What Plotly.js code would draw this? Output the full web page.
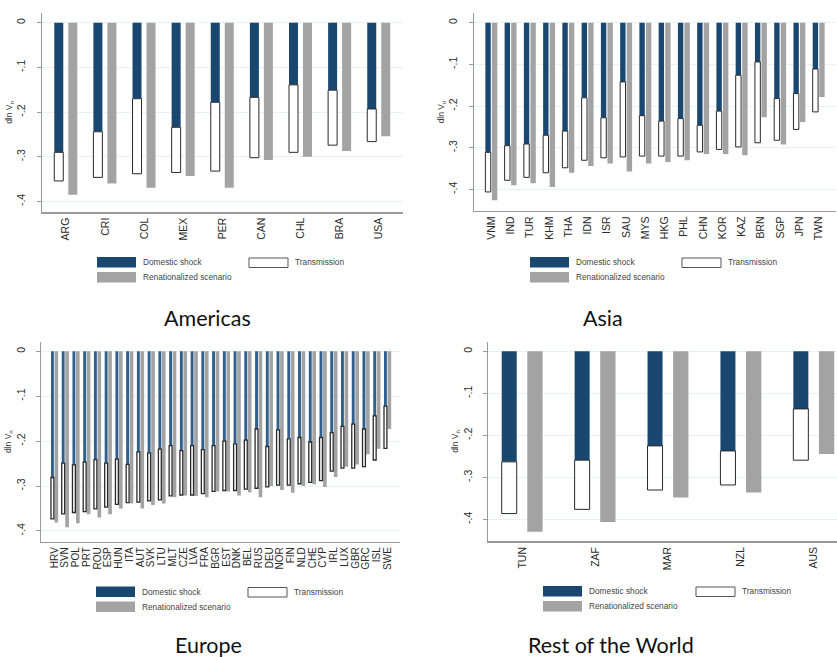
<!DOCTYPE html>
<html>
<head>
<meta charset="utf-8">
<script src="https://cdn.plot.ly/plotly-3.0.1.min.js"></script>
<style>
  html, body { margin: 0; padding: 0; background: #fff; }
  #chart { width: 837px; height: 657px; }
</style>
</head>
<body>
<div id="chart"></div>
<script>
// ---- Americas ----
const amCats     = ['ARG','CRI','COL','MEX','PER','CAN','CHL','BRA','USA'];
const amDomestic = [-0.290,-0.244,-0.170,-0.234,-0.178,-0.167,-0.139,-0.151,-0.193];
const amTotal    = [-0.354,-0.346,-0.338,-0.335,-0.332,-0.302,-0.290,-0.274,-0.266];
const amRenat    = [-0.385,-0.360,-0.369,-0.343,-0.369,-0.307,-0.300,-0.287,-0.254];

// ---- Asia ----
const asCats     = ['VNM','IND','TUR','KHM','THA','IDN','ISR','SAU','MYS','HKG','PHL','CHN','KOR','KAZ','BRN','SGP','JPN','TWN'];
const asDomestic = [-0.311,-0.295,-0.291,-0.270,-0.260,-0.180,-0.228,-0.142,-0.223,-0.236,-0.230,-0.246,-0.212,-0.126,-0.094,-0.182,-0.170,-0.111];
const asTotal    = [-0.406,-0.378,-0.371,-0.360,-0.348,-0.330,-0.324,-0.322,-0.320,-0.320,-0.320,-0.310,-0.304,-0.298,-0.288,-0.282,-0.256,-0.214];
const asRenat    = [-0.426,-0.390,-0.385,-0.394,-0.360,-0.344,-0.338,-0.357,-0.338,-0.334,-0.330,-0.315,-0.315,-0.318,-0.227,-0.292,-0.238,-0.178];

// ---- Europe ----
const euCats     = ['HRV','SVN','POL','PRT','ROU','ESP','HUN','ITA','AUT','SVK','LTU','MLT','CZE','LVA','FRA','BGR',
                    'EST','DNK','BEL','RUS','DEU','NOR','FIN','NLD','CHE','CYP','IRL','LUX','GBR','GRC','ISL','SWE'];
const euDomestic = [-0.281,-0.249,-0.253,-0.247,-0.241,-0.249,-0.240,-0.252,-0.224,-0.226,-0.218,-0.210,-0.221,-0.210,-0.219,-0.210,
                    -0.200,-0.206,-0.198,-0.173,-0.212,-0.175,-0.195,-0.192,-0.202,-0.192,-0.181,-0.167,-0.162,-0.173,-0.144,-0.122];
const euTotal    = [-0.373,-0.362,-0.359,-0.357,-0.351,-0.347,-0.341,-0.337,-0.336,-0.333,-0.331,-0.322,-0.320,-0.320,-0.317,-0.312,
                    -0.310,-0.310,-0.307,-0.305,-0.302,-0.298,-0.298,-0.295,-0.292,-0.288,-0.267,-0.260,-0.260,-0.257,-0.242,-0.216];
const euRenat    = [-0.381,-0.392,-0.383,-0.363,-0.370,-0.363,-0.350,-0.339,-0.350,-0.342,-0.339,-0.325,-0.321,-0.322,-0.325,-0.312,
                    -0.312,-0.321,-0.314,-0.325,-0.300,-0.309,-0.315,-0.300,-0.296,-0.302,-0.280,-0.257,-0.252,-0.229,-0.217,-0.173];

// ---- Rest of the World ----
const rwCats     = ['TUN','ZAF','MAR','NZL','AUS'];
const rwDomestic = [-0.263,-0.259,-0.225,-0.237,-0.137];
const rwTotal    = [-0.386,-0.376,-0.330,-0.318,-0.259];
const rwRenat    = [-0.429,-0.406,-0.348,-0.336,-0.244];

const yTickVals  = [0, -0.1, -0.2, -0.3, -0.4];
const yTickText  = ['0', '-.1', '-.2', '-.3', '-.4'];

const legendNames = ['Domestic shock', 'Transmission', 'Renationalized scenario'];
const panelTitles = ['Americas', 'Asia', 'Europe', 'Rest of the World'];

// colours
const NAVY = '#1a476f';
const GREY = '#a3a3a3';
const OUTLINE = '#2a2a2a';

const W = 837, H = 657;
const px = x => x / W;
const py = y => 1 - y / H;

// panel geometry (pixel boxes of the plot areas, axis ranges, bar placement)
const panels = [
  { cats: amCats, dom: amDomestic, tot: amTotal, ren: amRenat, ax: '',
    box: [42, 403, 13, 212], xr: [-0.614, 8.614], yr: [-0.4235, 0.0217],
    bOff: -0.30, bW: 0.23, gOff: 0.058, gW: 0.23, navy: NAVY, xfs: 10.5, tLine: 1,
    legend: [97, 249, 257], title: [207, 318] },
  { cats: asCats, dom: asDomestic, tot: asTotal, ren: asRenat, ax: '2',
    box: [474, 836, 13.3, 210.7], xr: [-0.9, 17.9], yr: [-0.451, 0.0226],
    bOff: -0.31, bW: 0.28, gOff: 0.03, gW: 0.28, navy: NAVY, xfs: 10.5, tLine: 1,
    legend: [530, 682, 257], title: [603, 318] },
  { cats: euCats, dom: euDomestic, tot: euTotal, ren: euRenat, ax: '3',
    box: [41.2, 400, 341.7, 541.7], xr: [-1.24, 32.16], yr: [-0.424, 0.0214],
    bOff: -0.33, bW: 0.27, gOff: 0.0, gW: 0.34, navy: '#2f5f8c', xfs: 10, tLine: 1.3,
    legend: [96, 248, 586.5], title: [208, 645] },
  { cats: rwCats, dom: rwDomestic, tot: rwTotal, ren: rwRenat, ax: '4',
    box: [488.3, 837, 341.7, 541.3], xr: [-0.465, 4.318], yr: [-0.452, 0.0229],
    bOff: -0.281, bW: 0.206, gOff: 0.07, gW: 0.21, navy: NAVY, xfs: 10.5, tLine: 1,
    legend: [543, 696, 586], title: [611, 645] }
];

const FONT = 'Liberation Sans, Arial, sans-serif';
const traces = [];
const layout = {
  width: W, height: H,
  margin: { l: 0, r: 0, t: 0, b: 0 },
  paper_bgcolor: '#fff', plot_bgcolor: '#fff',
  barmode: 'overlay', showlegend: false,
  font: { family: FONT, color: '#333', size: 10 },
  shapes: [], annotations: []
};

panels.forEach((p, i) => {
  const xa = 'x' + p.ax, ya = 'y' + p.ax;
  const trans = p.tot.map((t, k) => t - p.dom[k]);
  traces.push({
    type: 'bar', x: p.cats, y: p.ren, xaxis: xa, yaxis: ya,
    offset: p.gOff, width: p.gW, name: legendNames[2],
    marker: { color: GREY, line: { width: 0 } }
  });
  traces.push({
    type: 'bar', x: p.cats, y: p.dom, xaxis: xa, yaxis: ya,
    offset: p.bOff, width: p.bW, name: legendNames[0],
    marker: { color: p.navy, line: { width: 0 } }
  });
  traces.push({
    type: 'bar', x: p.cats, y: trans, base: p.dom, xaxis: xa, yaxis: ya,
    offset: p.bOff, width: p.bW, name: legendNames[1],
    marker: { color: '#ffffff', line: { color: OUTLINE, width: p.tLine } }
  });

  const [x0, x1, y0, y1] = p.box;
  layout['xaxis' + p.ax] = {
    domain: [px(x0), px(x1)], anchor: ya, type: 'category',
    range: p.xr, showgrid: false, zeroline: false,
    showline: true, linecolor: '#9a9a9a', linewidth: 1.5,
    tickmode: 'array', tickvals: p.cats, ticktext: p.cats,
    ticks: '', tickangle: -90, tickfont: { family: FONT, size: p.xfs, color: '#2a2a2a' },
    fixedrange: true
  };
  layout['yaxis' + p.ax] = {
    domain: [py(y1), py(y0)], anchor: xa,
    range: p.yr, tickmode: 'array', tickvals: yTickVals, ticktext: yTickText,
    showgrid: true, gridcolor: '#e9f1f2', gridwidth: 1, zeroline: false,
    showline: true, linecolor: '#9a9a9a', linewidth: 1.5,
    ticks: 'outside', ticklen: 4, tickcolor: '#9a9a9a', ticklabelstandoff: 7,
    tickangle: -90, tickfont: { family: FONT, size: 10.5, color: '#2a2a2a' },
    title: { text: 'dln V<sub>n</sub>', font: { family: FONT, size: 8.5, color: '#333' }, standoff: 1 },
    fixedrange: true
  };

  // legend keys
  const [lx1, lx2, ly] = p.legend;
  const keyW = 39, keyH = 10.5, rowGap = 15;
  layout.shapes.push(
    { type: 'rect', xref: 'paper', yref: 'paper', x0: px(lx1), x1: px(lx1 + keyW), y0: py(ly + keyH), y1: py(ly),
      fillcolor: NAVY, line: { width: 0 } },
    { type: 'rect', xref: 'paper', yref: 'paper', x0: px(lx2), x1: px(lx2 + keyW), y0: py(ly + keyH), y1: py(ly + 1),
      fillcolor: '#fff', line: { color: '#555', width: 1 } },
    { type: 'rect', xref: 'paper', yref: 'paper', x0: px(lx1), x1: px(lx1 + keyW), y0: py(ly + rowGap + keyH), y1: py(ly + rowGap),
      fillcolor: GREY, line: { width: 0 } }
  );
  const lf = { family: FONT, size: 8.3, color: '#444' };
  layout.annotations.push(
    { xref: 'paper', yref: 'paper', x: px(lx1 + keyW + 5), y: py(ly + keyH / 2), text: legendNames[0],
      showarrow: false, xanchor: 'left', yanchor: 'middle', font: lf },
    { xref: 'paper', yref: 'paper', x: px(lx2 + keyW + 5), y: py(ly + keyH / 2), text: legendNames[1],
      showarrow: false, xanchor: 'left', yanchor: 'middle', font: lf },
    { xref: 'paper', yref: 'paper', x: px(lx1 + keyW + 5), y: py(ly + rowGap + keyH / 2), text: legendNames[2],
      showarrow: false, xanchor: 'left', yanchor: 'middle', font: lf },
    { xref: 'paper', yref: 'paper', x: px(p.title[0]), y: py(p.title[1]), text: panelTitles[i],
      showarrow: false, xanchor: 'center', yanchor: 'middle',
      font: { family: 'Lato, Open Sans, sans-serif', size: 21.5, color: '#111' } }
  );
});

Plotly.newPlot('chart', traces, layout, { displayModeBar: false, staticPlot: true });
</script>
</body>
</html>
